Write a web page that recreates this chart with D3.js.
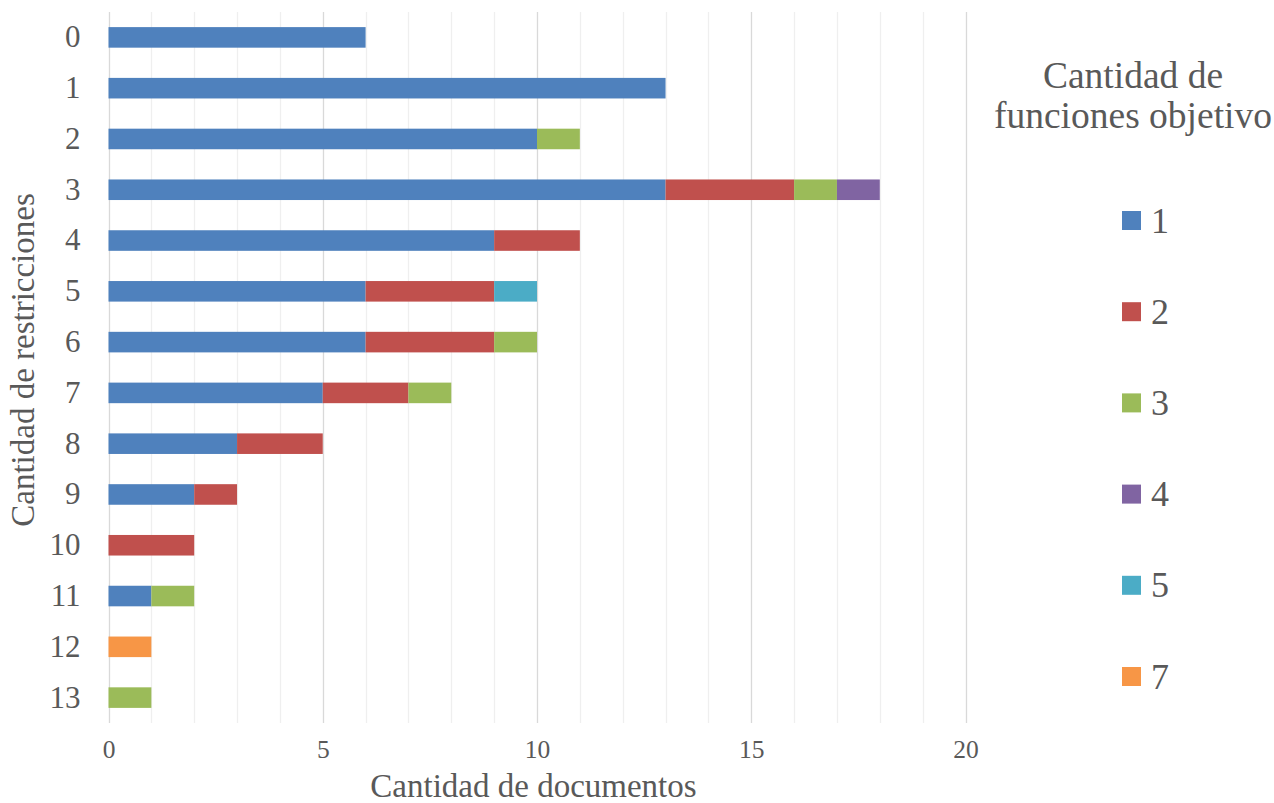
<!DOCTYPE html>
<html>
<head>
<meta charset="utf-8">
<script src="https://cdn.jsdelivr.net/npm/d3@7"></script>
<style>
  html, body { margin: 0; padding: 0; background: #fff; }
  svg text { font-family: "Liberation Serif", "Times New Roman", serif; fill: #595959; }
</style>
</head>
<body>
<svg id="chart" width="1274" height="803"></svg>
<script>
// Number of constraints (rows, top to bottom)
const categories = ["0","1","2","3","4","5","6","7","8","9","10","11","12","13"];
// Number of objective functions (stack series)
const seriesKeys = ["1","2","3","4","5","7"];
const seriesColors = ["#4F81BD","#C0504D","#9BBB59","#8064A2","#4BACC6","#F79646"];
// Document counts per series, one value per row
const s1 = [6, 13, 10, 13, 9, 6, 6, 5, 3, 2, 0, 1, 0, 0];
const s2 = [0, 0, 0, 3, 2, 3, 3, 2, 2, 1, 2, 0, 0, 0];
const s3 = [0, 0, 1, 1, 0, 0, 1, 1, 0, 0, 0, 1, 0, 1];
const s4 = [0, 0, 0, 1, 0, 0, 0, 0, 0, 0, 0, 0, 0, 0];
const s5 = [0, 0, 0, 0, 0, 1, 0, 0, 0, 0, 0, 0, 0, 0];
const s7 = [0, 0, 0, 0, 0, 0, 0, 0, 0, 0, 0, 0, 1, 0];
const xTicks = [0, 5, 10, 15, 20];

const seriesValues = [s1, s2, s3, s4, s5, s7];
const rows = categories.map((c, i) => {
  const r = { cat: c };
  seriesKeys.forEach((k, j) => { r[k] = seriesValues[j][i]; });
  return r;
});

const svg = d3.select("#chart");
const plot = { left: 108.5, right: 965.5, top: 12, bottom: 723 };

const x = d3.scaleLinear().domain([0, 20]).range([plot.left, plot.right]);
const y = d3.scaleBand().domain(categories).range([plot.top, plot.bottom]).paddingInner(0.595).paddingOuter(0.2975);
const color = d3.scaleOrdinal().domain(seriesKeys).range(seriesColors);

// Minor gridlines (every unit)
svg.append("g").selectAll("line")
  .data(d3.range(1, 21).filter(v => v % 5 !== 0))
  .join("line")
  .attr("x1", d => Math.round(x(d)) + 0.5).attr("x2", d => Math.round(x(d)) + 0.5)
  .attr("y1", plot.top).attr("y2", plot.bottom)
  .attr("stroke", "#efefef").attr("stroke-width", 1.3);

// Major gridlines
svg.append("g").selectAll("line")
  .data(xTicks)
  .join("line")
  .attr("x1", d => Math.round(x(d)) + 0.5).attr("x2", d => Math.round(x(d)) + 0.5)
  .attr("y1", plot.top).attr("y2", plot.bottom)
  .attr("stroke", "#d9d9d9").attr("stroke-width", 1.3);

// Stacked bars
const stacked = d3.stack().keys(seriesKeys)(rows);
svg.append("g").selectAll("g")
  .data(stacked)
  .join("g")
  .attr("fill", d => color(d.key))
  .selectAll("rect")
  .data(d => d.filter(p => p[1] - p[0] > 0))
  .join("rect")
  .attr("x", d => x(d[0]))
  .attr("y", d => y(d.data.cat))
  .attr("width", d => x(d[1]) - x(d[0]))
  .attr("height", y.bandwidth());

// X axis tick labels
const xAxis = d3.axisBottom(x).tickValues(xTicks).tickSize(0).tickPadding(17).tickFormat(d3.format("d"));
const gx = svg.append("g").attr("transform", `translate(0,${plot.bottom})`).call(xAxis);
gx.select(".domain").remove();
gx.selectAll("text").style("font-size", "25.5px").attr("fill", "#595959")
  .style("font-family", "'Liberation Serif', serif");

// Y axis tick labels
const yAxis = d3.axisLeft(y).tickSize(0).tickPadding(28);
const gy = svg.append("g").attr("transform", `translate(${plot.left},0)`).call(yAxis);
gy.select(".domain").remove();
gy.selectAll("text").style("font-size", "31px").attr("fill", "#595959")
  .style("font-family", "'Liberation Serif', serif");

// Axis titles
svg.append("text")
  .attr("x", 533.5).attr("y", 797)
  .attr("text-anchor", "middle").style("font-size", "33px")
  .text("Cantidad de documentos");

svg.append("text")
  .attr("transform", "translate(34,360) rotate(-90)")
  .attr("text-anchor", "middle").style("font-size", "33px")
  .text("Cantidad de restricciones");

// Legend title
const lt = svg.append("text").attr("text-anchor", "middle").style("font-size", "37.5px");
lt.append("tspan").attr("x", 1133).attr("y", 88).text("Cantidad de");
lt.append("tspan").attr("x", 1133).attr("y", 128).text("funciones objetivo");

// Legend entries
const legendY = d3.scalePoint().domain(seriesKeys).range([220.5, 676.5]);
const lg = svg.append("g").selectAll("g")
  .data(seriesKeys)
  .join("g")
  .attr("transform", d => `translate(1122,${legendY(d)})`);
lg.append("rect").attr("x", 0).attr("y", -9.5).attr("width", 19).attr("height", 19)
  .attr("fill", d => color(d));
lg.append("text").attr("x", 29).attr("y", 12).style("font-size", "36px").text(d => d);
</script>
</body>
</html>
